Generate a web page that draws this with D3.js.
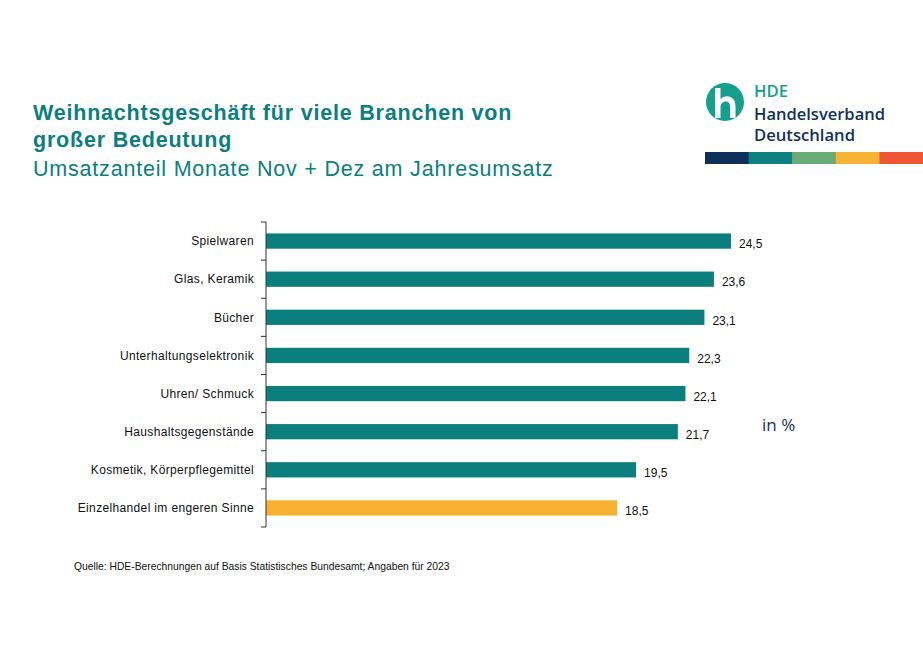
<!DOCTYPE html>
<html><head><meta charset="utf-8">
<script src="https://cdn.jsdelivr.net/npm/d3@7"></script>
<style>body{margin:0;background:#fff;}svg{display:block;}</style>
</head><body>
<script>
const categories = ["Spielwaren","Glas, Keramik","Bücher","Unterhaltungselektronik","Uhren/ Schmuck","Haushaltsgegenstände","Kosmetik, Körperpflegemittel","Einzelhandel im engeren Sinne"];
const values = [24.5,23.6,23.1,22.3,22.1,21.7,19.5,18.5];
const highlight = [false,false,false,false,false,false,false,true];
const stripColors = ["#0d2f5a","#0e7f80","#6aab78","#f8b334","#ef5638"];

const W=923,H=661;
const svg=d3.select("body").append("svg").attr("width",W).attr("height",H);
const font="Liberation Sans, Arial, sans-serif";
const teal="#0b7e7e";

function title(t,y,bold){
  svg.append("text").attr("x",33).attr("y",y).attr("font-family",font).attr("font-size",21.5)
    .attr("letter-spacing",0.8).attr("font-weight",bold?"bold":"normal").attr("fill",teal).text(t);
}
title("Weihnachtsgeschäft für viele Branchen von",120,true);
title("großer Bedeutung",147,true);
title("Umsatzanteil Monate Nov + Dez am Jahresumsatz",176,false);

// Logo
const lg=svg.append("g");
lg.append("circle").attr("cx",725).attr("cy",102).attr("r",19).attr("fill","#14a08d");
lg.append("path").attr("d","M715,88 L720.5,88 L720.5,99 Q724,95.5 729,96.5 Q735.5,98 735.5,106 L735.5,118 L730,118 L730,107 Q730,101.5 726,101.5 Q721,101.5 720.5,107 L720.5,118 L715,118 Z").attr("fill","#fff");
const lf="Open Sans, sans-serif";
lg.append("text").attr("x",754).attr("y",97).attr("font-family",lf).attr("font-size",17).attr("font-weight",600).attr("textLength",34).attr("lengthAdjust","spacingAndGlyphs").attr("fill","#14a08d").text("HDE");
lg.append("text").attr("x",754).attr("y",120).attr("font-family",lf).attr("font-size",17).attr("font-weight",600).attr("textLength",131).attr("lengthAdjust","spacingAndGlyphs").attr("fill","#12305c").text("Handelsverband");
lg.append("text").attr("x",754).attr("y",141).attr("font-family",lf).attr("font-size",17).attr("font-weight",600).attr("textLength",101).attr("lengthAdjust","spacingAndGlyphs").attr("fill","#12305c").text("Deutschland");
const sx=d3.scaleBand().domain(d3.range(stripColors.length)).range([705,923]);
lg.selectAll("rect.s").data(stripColors).join("rect").attr("class","s")
  .attr("x",(d,i)=>sx(i)).attr("y",152).attr("width",sx.bandwidth()+0.5).attr("height",12).attr("fill",d=>d);

// Chart
const x=d3.scaleLinear().domain([0,24.5]).range([266,731]);
const y=d3.scaleBand().domain(categories).range([222,527]).paddingInner(0.6).paddingOuter(0.3);
const yAxis=d3.scaleBand().domain(categories).range([222,527]);

const g=svg.append("g");
g.selectAll("rect.bar").data(categories).join("rect").attr("class","bar")
  .attr("x",x(0)).attr("y",d=>y(d)).attr("width",(d,i)=>x(values[i])-x(0)).attr("height",y.bandwidth())
  .attr("fill",(d,i)=>highlight[i]?"#f6b132":teal);

g.append("line").attr("x1",266).attr("x2",266).attr("y1",222).attr("y2",527).attr("stroke","#333").attr("stroke-width",1);
const edges=categories.map(c=>yAxis(c)).concat([527]);
g.selectAll("line.t").data(edges).join("line").attr("class","t")
  .attr("x1",261).attr("x2",266).attr("y1",d=>d).attr("y2",d=>d).attr("stroke","#333");

g.selectAll("text.lab").data(categories).join("text").attr("class","lab")
  .attr("x",254).attr("y",d=>y(d)+y.bandwidth()/2).attr("dy","0.35em").attr("text-anchor","end")
  .attr("font-family",font).attr("font-size",12).attr("letter-spacing",0.35).attr("fill","#111").text(d=>d);

g.selectAll("text.val").data(categories).join("text").attr("class","val")
  .attr("x",(d,i)=>x(values[i])+8).attr("y",d=>y(d)+y.bandwidth()/2+3).attr("dy","0.35em")
  .attr("font-family",font).attr("font-size",12).attr("fill","#111").text((d,i)=>d3.format(".1f")(values[i]).replace(".",","));

svg.append("text").attr("x",762).attr("y",431).attr("font-family",lf).attr("font-size",17).attr("fill","#12305c").text("in %");

svg.append("text").attr("x",74).attr("y",570).attr("font-family",font).attr("font-size",10.3).attr("fill","#111").text("Quelle: HDE-Berechnungen auf Basis Statistisches Bundesamt; Angaben für 2023");
</script>
</body></html>
